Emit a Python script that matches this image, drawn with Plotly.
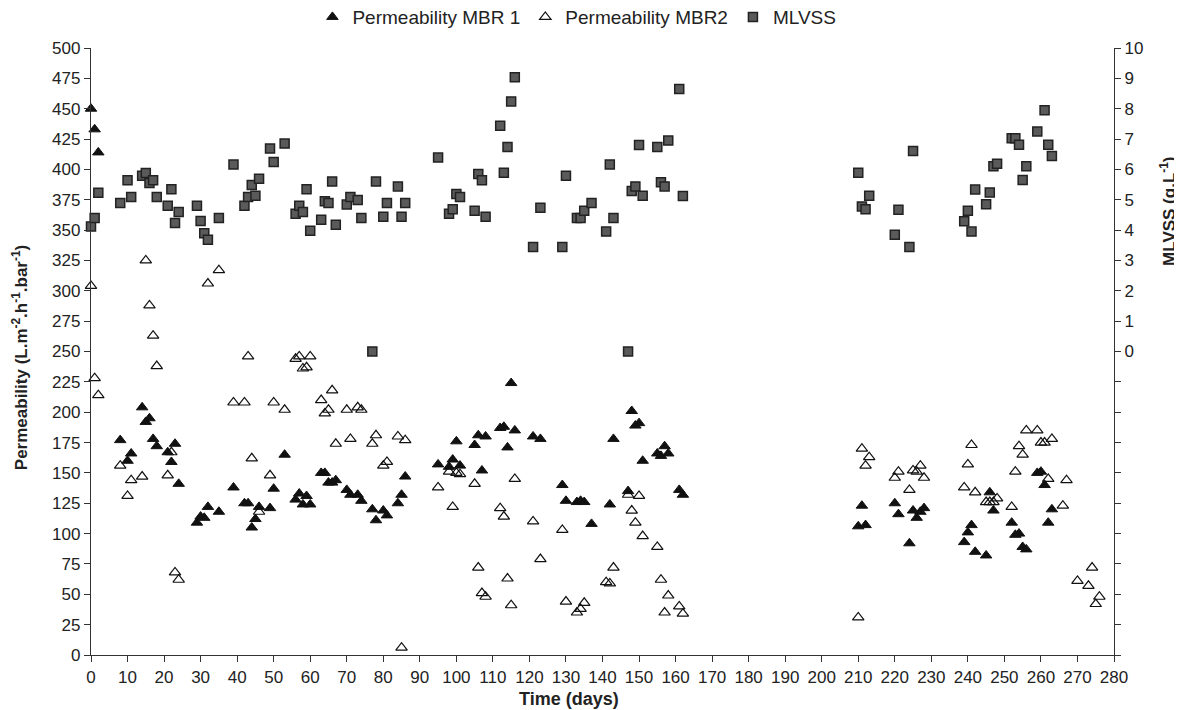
import plotly.graph_objects as go

# Permeability MBR 1 (filled triangles)
mbr1_day = [0, 1, 2, 8, 10, 11, 14, 15, 16, 17, 18, 21, 22, 23, 24, 29, 30, 31, 32, 35,
            39, 42, 43, 44, 45, 46, 49, 50, 53, 56, 57, 58, 59, 60, 63, 64, 65, 66, 67,
            70, 71, 73, 74, 77, 78, 80, 81, 84, 85, 86, 95, 98, 99, 100, 101, 105, 106,
            107, 108, 112, 113, 114, 115, 116, 121, 123, 129, 130, 133, 134, 135, 137,
            142, 143, 147, 148, 149, 150, 151, 155, 156, 157, 158, 161, 162,
            210, 211, 212, 220, 221, 224, 225, 226, 227, 228,
            239, 240, 241, 242, 245, 246, 247, 252, 253, 254, 255, 256, 259, 260, 261,
            262, 263]
mbr1_val = [450, 433, 414, 177, 160, 166, 204, 192, 195, 178, 172, 167, 159, 174, 141, 109,
            114, 113, 122, 118, 138, 125, 125, 105, 112, 122, 121, 137, 165, 128, 133, 124,
            131, 124, 150, 150, 142, 142, 144, 136, 132, 132, 127, 120, 111, 119, 115, 125,
            132, 147, 157, 155, 161, 176, 156, 173, 181, 152, 180, 187, 188, 171, 224, 185,
            180, 178, 140, 127, 126, 127, 126, 108, 124, 178, 135, 201, 189, 191, 160,
            166, 164, 172, 166, 136, 132,
            106, 123, 107, 125, 116, 92, 119, 113, 118, 121,
            93, 101, 107, 85, 82, 134, 119, 109, 99, 100, 89, 87, 150, 151, 140,
            109, 120]

# Permeability MBR2 (open triangles)
mbr2_day = [0, 1, 2, 8, 10, 11, 14, 15, 16, 17, 18, 21, 22, 23, 24, 32, 35,
            39, 42, 43, 44, 46, 49, 50, 53, 56, 57, 58, 59, 60, 63, 64, 65, 66, 67,
            70, 71, 73, 74, 77, 78, 80, 81, 84, 85, 86, 95, 98, 99, 100, 101, 105, 106,
            107, 108, 112, 113, 114, 115, 116, 121, 123, 129, 130, 133, 134, 135,
            141, 142, 143, 147, 148, 149, 150, 151, 155, 156, 157, 158, 161, 162,
            210, 211, 212, 213, 220, 221, 224, 225, 226, 227, 228,
            239, 240, 241, 242, 245, 246, 247, 248, 252, 253, 254, 255, 256, 259, 260,
            261, 262, 263, 266, 267, 270, 273, 274, 275, 276]
mbr2_val = [304, 228, 214, 156, 131, 144, 147, 325, 288, 263, 238, 148, 167, 68, 62, 306, 317,
            208, 208, 246, 162, 118, 148, 208, 202, 244, 246, 236, 237, 246, 210, 199, 202,
            218, 174, 202, 178, 204, 202, 174, 181, 156, 159, 180, 6, 177, 138, 151, 122,
            150, 149, 141, 72, 51, 48, 121, 114, 63, 41, 145, 110, 79, 103, 44, 35, 38, 43,
            60, 59, 72, 132, 119, 109, 131, 98, 89, 62, 35, 49, 40, 34,
            31, 170, 156, 163, 146, 151, 136, 152, 151, 156, 146,
            138, 157, 173, 134, 126, 126, 126, 129, 122, 151, 172, 165, 185, 185, 175,
            175, 145, 178, 123, 144, 61, 57, 72, 42, 48]

# MLVSS (g/L, right axis)
mlvss_day = [0, 1, 2, 8, 10, 11, 14, 15, 16, 17, 18, 21, 22, 23, 24, 29, 30, 31, 32, 35,
             39, 42, 43, 44, 45, 46, 49, 50, 53, 56, 57, 58, 59, 60, 63, 64, 65, 66, 67,
             70, 71, 73, 74, 77, 78, 80, 81, 84, 85, 86, 95, 98, 99, 100, 101, 105, 106,
             107, 108, 112, 113, 114, 115, 116, 121, 123, 129, 130, 133, 134, 135, 137,
             141, 142, 143, 147, 148, 149, 150, 151, 155, 156, 157, 158, 161, 162,
             210, 211, 212, 213, 220, 221, 224, 225,
             239, 240, 241, 242, 245, 246, 247, 248, 252, 253, 254, 255, 256, 259, 261,
             262, 263]
mlvss_val = [4.12, 4.40, 5.23, 4.89, 5.64, 5.09, 5.79, 5.88, 5.55, 5.64, 5.09, 4.80, 5.35,
             4.23, 4.60, 4.80, 4.30, 3.90, 3.68, 4.40, 6.16, 4.80, 5.09, 5.49, 5.13, 5.69,
             6.69, 6.24, 6.85, 4.54, 4.80, 4.60, 5.35, 3.98, 4.34, 4.95, 4.89, 5.60, 4.18,
             4.84, 5.09, 4.99, 4.40, 0.0, 5.60, 4.44, 4.89, 5.44, 4.44, 4.89, 6.39, 4.54,
             4.69, 5.19, 5.09, 4.64, 5.85, 5.64, 4.44, 7.44, 5.89, 6.74, 8.24, 9.04, 3.44,
             4.74, 3.44, 5.79, 4.40, 4.40, 4.64, 4.89, 3.95, 6.16, 4.40, 0.0, 5.29, 5.44,
             6.80, 5.13, 6.74, 5.58, 5.44, 6.95, 8.65, 5.12,
             5.89, 4.78, 4.69, 5.13, 3.85, 4.67, 3.44, 6.61,
             4.29, 4.64, 3.95, 5.34, 4.85, 5.24, 6.10, 6.19, 7.03, 7.03, 6.81, 5.65, 6.10,
             7.25, 7.95, 6.81, 6.44]

left_ticks = list(range(0, 501, 25))
right_ticks = list(range(-10, 11))
right_text = [str(v) if v >= 0 else "" for v in right_ticks]
x_ticks = list(range(0, 281, 10))

FONT = "Arial, Liberation Sans, sans-serif"
AX = "#333333"
TXT = "#222222"

fig = go.Figure()
fig.add_trace(go.Scatter(
    x=mbr1_day, y=mbr1_val, mode="markers", name="Permeability MBR 1",
    marker=dict(symbol="triangle-up", size=10, color="#111111",
                line=dict(color="#111111", width=1)),
    cliponaxis=False))
fig.add_trace(go.Scatter(
    x=mbr2_day, y=mbr2_val, mode="markers", name="Permeability MBR2",
    marker=dict(symbol="triangle-up-open", size=10, color="#111111",
                line=dict(color="#111111", width=1.2)),
    cliponaxis=False))
fig.add_trace(go.Scatter(
    x=mlvss_day, y=mlvss_val, mode="markers", name="MLVSS", yaxis="y2",
    marker=dict(symbol="square", size=9, color="#5a5a5a",
                line=dict(color="#222222", width=1.5)),
    cliponaxis=False))

axis_common = dict(ticks="outside", ticklen=6, tickcolor=AX, showline=True,
                   linecolor=AX, linewidth=1.3, showgrid=False, zeroline=False,
                   tickfont=dict(size=17, color=TXT), automargin=False)

fig.update_layout(
    width=1182, height=710,
    margin=dict(l=83, r=76, t=40, b=63, autoexpand=False),
    paper_bgcolor="white", plot_bgcolor="white",
    font=dict(family=FONT, size=17, color=TXT),
    showlegend=True,
    legend=dict(orientation="h", x=0.475, xanchor="center", y=1.051, yanchor="middle",
                font=dict(size=19, color=TXT), itemwidth=30,
                bgcolor="rgba(0,0,0,0)"),
    xaxis=dict(range=[0, 280], tickvals=x_ticks, **axis_common),
    yaxis=dict(range=[0, 500], tickvals=left_ticks, **axis_common),
    yaxis2=dict(range=[-10, 10], overlaying="y", side="right", tickvals=right_ticks,
                ticktext=right_text, **axis_common),
    annotations=[
        dict(text="<b>Time (days)</b>", xref="paper", yref="paper", x=0.467, y=-0.0725,
             xanchor="center", yanchor="middle", showarrow=False,
             font=dict(size=18, color=TXT)),
        dict(text="<b>Permeability (L.m<sup>-2</sup>.h<sup>-1</sup>.bar<sup>-1</sup>)</b>",
             xref="paper", yref="paper", x=-0.0694, y=0.489, textangle=-90,
             xanchor="center", yanchor="middle", showarrow=False,
             font=dict(size=17, color=TXT)),
        dict(text="<b>MLVSS (g.L<sup>-1</sup>)</b>", xref="paper", yref="paper",
             x=1.0528, y=0.73, textangle=-90, xanchor="center", yanchor="middle",
             showarrow=False, font=dict(size=17, color=TXT)),
    ],
)

fig.write_html("out.html")
